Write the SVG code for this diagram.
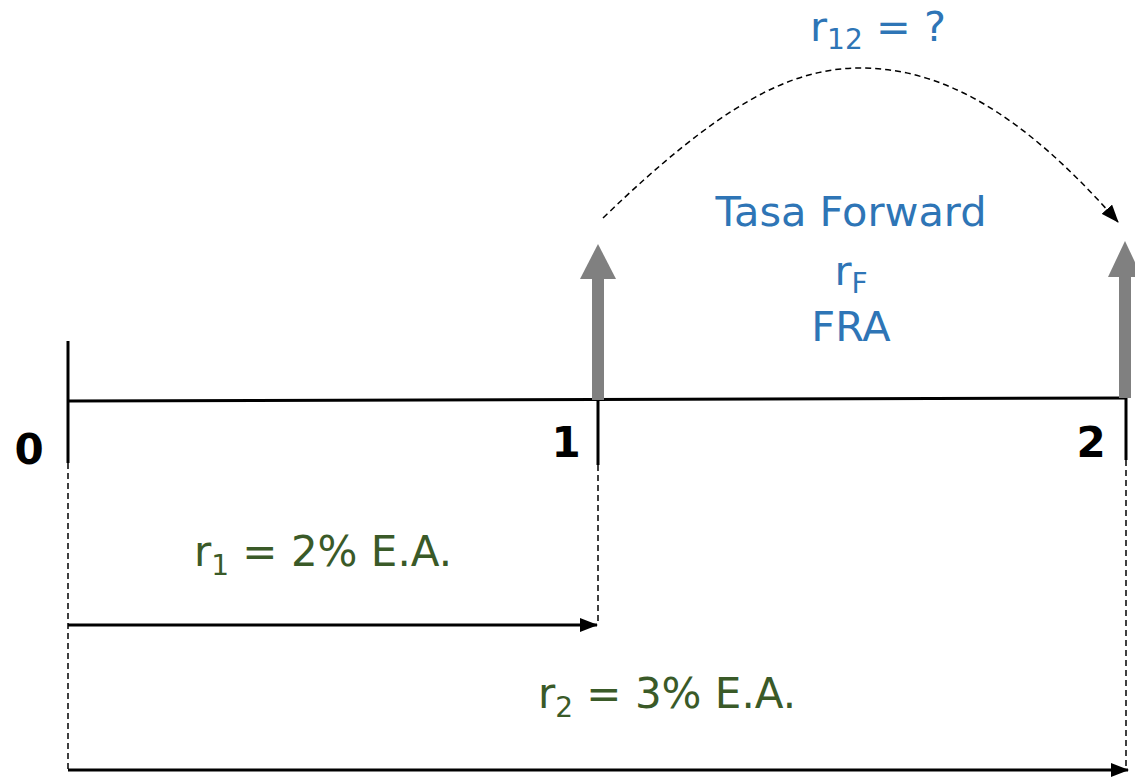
<svg xmlns="http://www.w3.org/2000/svg" width="1135" height="777" viewBox="0 0 1135 777">
<defs>
<style>
.ax{stroke:#000;stroke-width:3;fill:none}
.dash{stroke:#000;stroke-width:1.5;stroke-dasharray:6,4;fill:none}
.arr{stroke:#000;stroke-width:3;fill:none}
.gray{fill:#808080}
.num{font-family:"DejaVu Sans",Verdana,sans-serif;font-weight:bold;font-size:42px;fill:#000}
.blue{font-family:"DejaVu Sans",Verdana,sans-serif;font-size:41.5px;fill:#2E75B6}
.green{font-family:"DejaVu Sans",Verdana,sans-serif;font-size:42px;fill:#3A5A28}
</style>
<marker id="ahb" markerWidth="18" markerHeight="14" refX="17" refY="7" orient="auto" markerUnits="userSpaceOnUse" viewBox="0 0 18 14">
<path d="M0,0 L18,7 L0,14 Z" fill="#000"/>
</marker>
</defs>
<g id="timeline">
<line class="ax" x1="68" y1="341" x2="68" y2="463"/>
<line class="ax" x1="68" y1="401" x2="1127" y2="398"/>
<line class="ax" x1="598" y1="400" x2="598" y2="465"/>
<line class="ax" x1="1126" y1="398" x2="1126" y2="460"/>
</g>
<g id="labels-periods">
<text class="num" x="29" y="464" text-anchor="middle">0</text>
<text class="num" x="566" y="457" text-anchor="middle">1</text>
<text class="num" x="1091" y="457" text-anchor="middle">2</text>
</g>
<g id="cashflow-1">
<rect class="gray" x="592" y="278" width="12" height="122"/>
<polygon class="gray" points="580,279 616,279 598,244"/>
</g>
<g id="cashflow-2">
<rect class="gray" x="1119" y="276" width="12" height="122"/>
<polygon class="gray" points="1108,277 1142,277 1125,241"/>
</g>
<g id="connectors">
<line class="dash" x1="68" y1="463" x2="68" y2="770"/>
<line class="dash" x1="598" y1="465" x2="598" y2="625"/>
<line class="dash" x1="1126" y1="460" x2="1126" y2="770"/>
<line class="arr" x1="68" y1="625" x2="597" y2="625" marker-end="url(#ahb)"/>
<line class="arr" x1="68" y1="770" x2="1128" y2="770" marker-end="url(#ahb)"/>
<path class="dash" d="M603,218 C720,105 790,68 860,68 C940,68 1020,110 1118,222" marker-end="url(#ahb)"/>
</g>
<g id="forward-label">
<text class="blue" x="878" y="41" text-anchor="middle">r<tspan font-size="28" dy="8">12</tspan><tspan dy="-8"> = ?</tspan></text>
<text class="blue" x="851" y="226" text-anchor="middle">Tasa Forward</text>
<text class="blue" x="851" y="285" text-anchor="middle">r<tspan font-size="28" dy="8">F</tspan></text>
<text class="blue" x="851" y="341" text-anchor="middle">FRA</text>
</g>
<g id="rate-1">
<text class="green" x="323" y="566" text-anchor="middle">r<tspan font-size="28" dy="9">1</tspan><tspan dy="-9"> = 2% E.A.</tspan></text>
</g>
<g id="rate-2">
<text class="green" x="667" y="708" text-anchor="middle">r<tspan font-size="28" dy="9">2</tspan><tspan dy="-9"> = 3% E.A.</tspan></text>
</g>
</svg>
